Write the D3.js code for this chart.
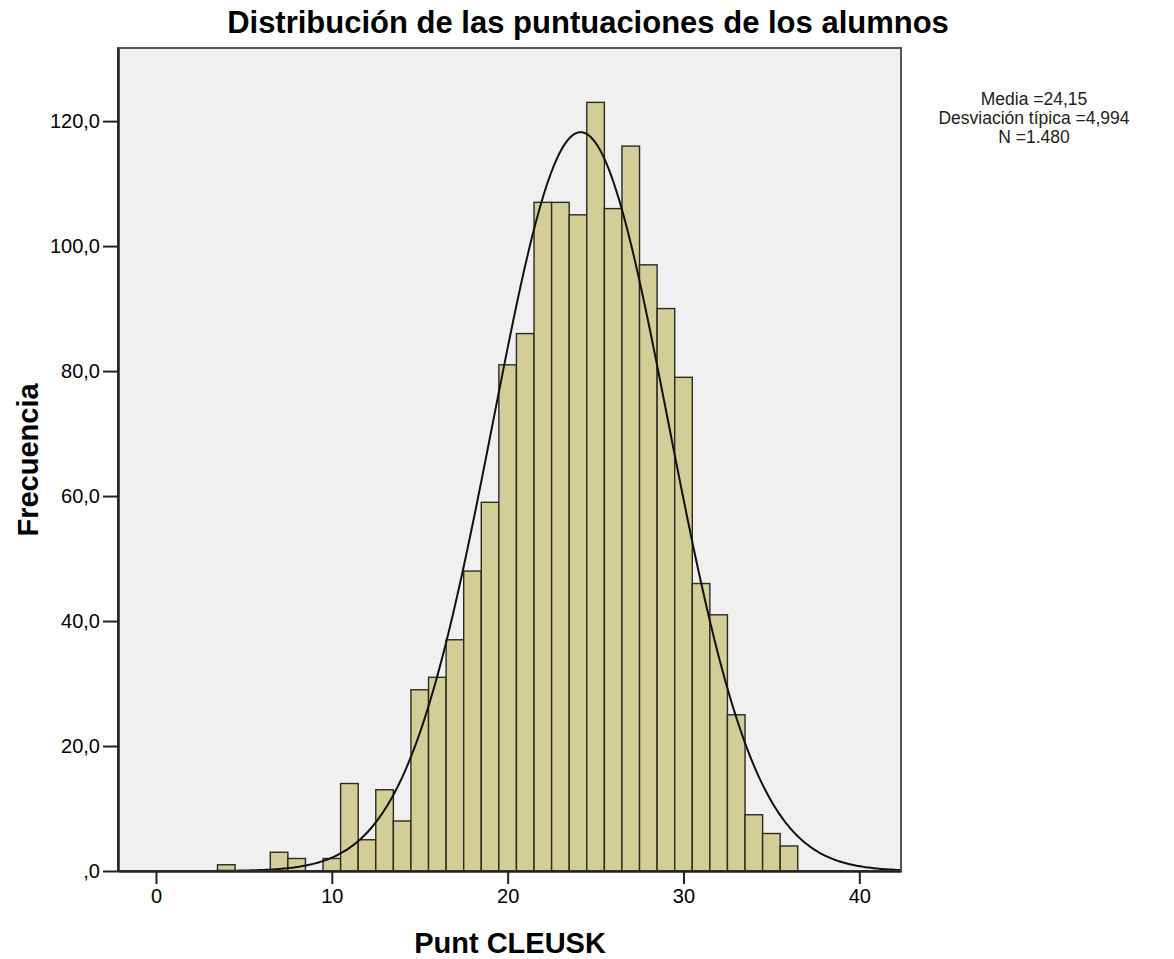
<!DOCTYPE html>
<html lang="es">
<head>
<meta charset="utf-8">
<title>Distribución de las puntuaciones</title>
<script src="https://cdn.jsdelivr.net/npm/d3@7"></script>
<style>
  body { margin: 0; background: #fff; }
  text { font-family: "Liberation Sans", Arial, sans-serif; fill: #000; }
</style>
</head>
<body>
<div id="chart"></div>
<script>
// data
var scores = [4, 7, 8, 10, 11, 12, 13, 14, 15, 16, 17, 18, 19, 20, 21, 22, 23, 24, 25, 26, 27, 28, 29, 30, 31, 32, 33, 34, 35, 36];
var freqs  = [1, 3, 2, 2, 14, 5, 13, 8, 29, 31, 37, 48, 59, 81, 86, 107, 107, 105, 123, 106, 116, 97, 90, 79, 46, 41, 25, 9, 6, 4];
var xTicks = [0, 10, 20, 30, 40];
var yTicks = [0, 20, 40, 60, 80, 100, 120];
var mean = 24.15, sd = 4.994, n = 1480;
var statLines = ["Media =24,15", "Desviación típica =4,994", "N =1.480"];

var width = 1174, height = 959;
var pLeft = 118, pRight = 901, pTop = 48, pBottom = 871;

var svg = d3.select("#chart").append("svg")
    .attr("width", width)
    .attr("height", height);

var x = d3.scaleLinear().domain([-2.16, 42.37]).range([pLeft, pRight]);
var y = d3.scaleLinear().domain([0, 131.7]).range([pBottom, pTop]);

// plot background
svg.append("rect")
    .attr("x", pLeft).attr("y", pTop)
    .attr("width", pRight - pLeft).attr("height", pBottom - pTop)
    .attr("fill", "#f0f0f0");

// bars
svg.append("g").selectAll("rect")
    .data(scores)
  .enter().append("rect")
    .attr("x", function(d) { return x(d - 0.5); })
    .attr("width", function(d) { return x(d + 0.5) - x(d - 0.5); })
    .attr("y", function(d, i) { return y(freqs[i]); })
    .attr("height", function(d, i) { return y(0) - y(freqs[i]); })
    .attr("fill", "#d3ce97")
    .attr("stroke", "#2a2a20")
    .attr("stroke-width", 1.4);

// normal curve from the stated mean / sd
var curve = d3.range(-2.16, 42.37, 0.1).map(function(v) {
  var z = (v - mean) / sd;
  return [v, n / (sd * Math.sqrt(2 * Math.PI)) * Math.exp(-0.5 * z * z)];
});
svg.append("path")
    .datum(curve)
    .attr("fill", "none")
    .attr("stroke", "#111")
    .attr("stroke-width", 2)
    .attr("d", d3.line().x(function(d) { return x(d[0]); }).y(function(d) { return y(d[1]); }));

// frame
svg.append("rect")
    .attr("x", pLeft).attr("y", pTop)
    .attr("width", pRight - pLeft).attr("height", pBottom - pTop)
    .attr("fill", "none")
    .attr("stroke", "#555")
    .attr("stroke-width", 2);

// axes
var fmt = function(d) { return d === 0 ? ",0" : d3.format(".1f")(d).replace(".", ","); };
function styleAxis(g) {
  g.attr("font-size", 20).attr("font-family", "Liberation Sans, Arial, sans-serif");
  g.select(".domain").attr("stroke-width", 2.5).attr("stroke", "#222");
  g.selectAll(".tick line").attr("stroke-width", 2).attr("stroke", "#222");
  g.selectAll(".tick text").attr("fill", "#222");
}
svg.append("g")
    .attr("transform", "translate(0," + pBottom + ")")
    .call(d3.axisBottom(x).tickValues(xTicks).tickSize(13).tickPadding(5).tickSizeOuter(0))
    .call(styleAxis);

svg.append("g")
    .attr("transform", "translate(" + pLeft + ",0)")
    .call(d3.axisLeft(y).tickValues(yTicks).tickFormat(fmt).tickSize(15).tickPadding(3).tickSizeOuter(0))
    .call(styleAxis);

// title and labels
svg.append("text")
    .attr("x", 588).attr("y", 33)
    .attr("text-anchor", "middle")
    .style("font-size", "31px").style("font-weight", "bold")
    .text("Distribución de las puntuaciones de los alumnos");

svg.append("text")
    .attr("x", 510).attr("y", 953)
    .attr("text-anchor", "middle")
    .style("font-size", "29px").style("font-weight", "bold")
    .text("Punt CLEUSK");

svg.append("text")
    .attr("transform", "translate(38,460) rotate(-90)")
    .attr("text-anchor", "middle")
    .style("font-size", "29px").style("font-weight", "bold")
    .text("Frecuencia");

// stats text
svg.append("g").selectAll("text")
    .data(statLines)
  .enter().append("text")
    .attr("x", 1034)
    .attr("y", function(d, i) { return 105 + i * 19; })
    .attr("text-anchor", "middle")
    .style("font-size", "17.5px")
    .style("fill", "#222")
    .text(function(d) { return d; });
</script>
</body>
</html>
